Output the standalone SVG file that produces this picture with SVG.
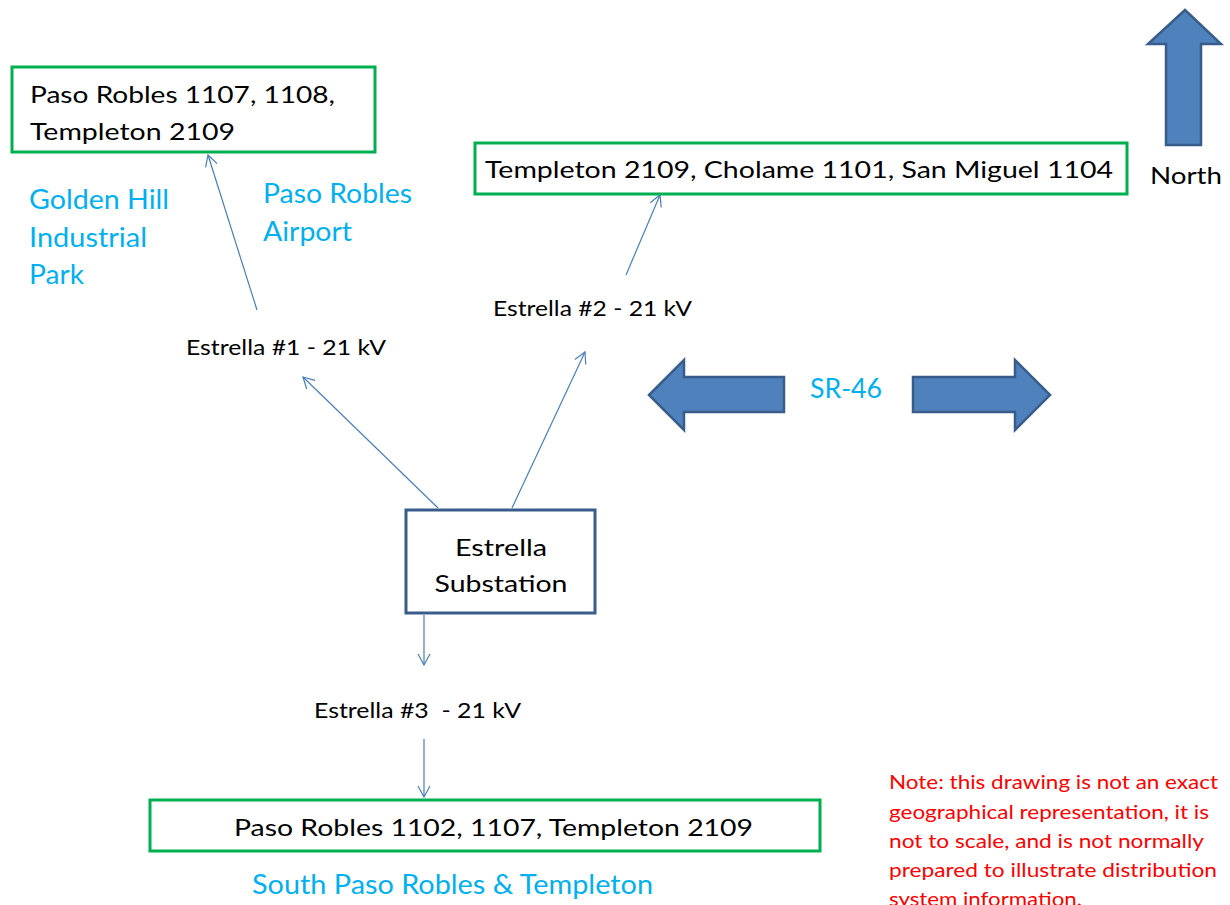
<svg xmlns="http://www.w3.org/2000/svg" width="1230" height="905" viewBox="0 0 1230 905">
<style>
text{font-family:Lato,"Open Sans","Liberation Sans",sans-serif;}
.box{fill:#fff;stroke:#00B050;stroke-width:3;}
.sub{fill:#fff;stroke:#385D8A;stroke-width:3;}
.blk{fill:#000;font-size:24px;}
.lbl{fill:#000;font-size:21px;}
.blue{fill:#00B0F0;font-size:26px;}
.note{fill:#FF0000;font-size:20px;}
.big{fill:#4F81BD;stroke:#385D8A;stroke-width:2.5;}
.con{stroke:#4A7EBB;stroke-width:1.2;fill:none;marker-end:url(#arr);}
</style>
<defs>
<marker id="arr" markerWidth="14" markerHeight="14" refX="12" refY="7" orient="auto" markerUnits="userSpaceOnUse">
<path d="M1,1 L12,7 L1,13" fill="none" stroke="#4A7EBB" stroke-width="1.2"/>
</marker>
</defs>
<rect width="1230" height="905" fill="#fff"/>
<g id="connectors">
<line class="con" x1="257" y1="310" x2="208" y2="155"/>
<line class="con" x1="626" y1="275" x2="660" y2="195"/>
<line class="con" x1="438" y1="508" x2="303" y2="377"/>
<line class="con" x1="512" y1="508" x2="585" y2="352"/>
<line class="con" x1="424" y1="615" x2="424" y2="665"/>
<line class="con" x1="424" y1="739" x2="424" y2="797"/>
</g>
<g id="box-north-west">
<rect class="box" x="12" y="67" width="363" height="85"/>
<text class="blk" x="30" y="103" textLength="305" lengthAdjust="spacingAndGlyphs">Paso Robles 1107, 1108,</text>
<text class="blk" x="30" y="140" textLength="205" lengthAdjust="spacingAndGlyphs">Templeton 2109</text>
</g>
<g id="box-north-east">
<rect class="box" x="475" y="143" width="652" height="51"/>
<text class="blk" x="485" y="178" textLength="628" lengthAdjust="spacingAndGlyphs">Templeton 2109, Cholame 1101, San Miguel 1104</text>
</g>
<g id="north">
<polygon class="big" points="1185,10 1221,44 1201,44 1201,145 1166,145 1166,44 1148,44"/>
<text class="blk" x="1150" y="184" textLength="72" lengthAdjust="spacingAndGlyphs">North</text>
</g>
<g id="sr46">
<polygon class="big" points="649,395 684,360 684,377 784,377 784,412 684,412 684,430"/>
<polygon class="big" points="1050,395 1015,360 1015,377 913,377 913,412 1015,412 1015,430"/>
<text class="blue" x="810" y="398" textLength="72" lengthAdjust="spacingAndGlyphs">SR-46</text>
</g>
<g id="golden-hill">
<text class="blue" x="29" y="209" textLength="140" lengthAdjust="spacingAndGlyphs">Golden Hill</text>
<text class="blue" x="29" y="247" textLength="118" lengthAdjust="spacingAndGlyphs">Industrial</text>
<text class="blue" x="29" y="284" textLength="55" lengthAdjust="spacingAndGlyphs">Park</text>
</g>
<g id="airport">
<text class="blue" x="263" y="203" textLength="149" lengthAdjust="spacingAndGlyphs">Paso Robles</text>
<text class="blue" x="263" y="241" textLength="89" lengthAdjust="spacingAndGlyphs">Airport</text>
</g>
<g id="estrella-1">
<text class="lbl" x="186" y="355" textLength="200" lengthAdjust="spacingAndGlyphs">Estrella #1 - 21 kV</text>
</g>
<g id="estrella-2">
<text class="lbl" x="493" y="316" textLength="199" lengthAdjust="spacingAndGlyphs">Estrella #2 - 21 kV</text>
</g>
<g id="substation">
<rect class="sub" x="406" y="510" width="189" height="103"/>
<text class="blk" x="501" y="556" text-anchor="middle" textLength="92" lengthAdjust="spacingAndGlyphs">Estrella</text>
<text class="blk" x="501" y="592" text-anchor="middle" textLength="133" lengthAdjust="spacingAndGlyphs">Substation</text>
</g>
<g id="estrella-3">
<text class="lbl" x="314" y="718" textLength="207" lengthAdjust="spacingAndGlyphs" xml:space="preserve">Estrella #3  - 21 kV</text>
</g>
<g id="box-south">
<rect class="box" x="150" y="800" width="670" height="51"/>
<text class="blk" x="234" y="836" textLength="519" lengthAdjust="spacingAndGlyphs">Paso Robles 1102, 1107, Templeton 2109</text>
<text class="blue" x="252" y="894" textLength="401" lengthAdjust="spacingAndGlyphs">South Paso Robles &amp; Templeton</text>
</g>
<g id="note">
<text class="note" x="889" y="789" textLength="329" lengthAdjust="spacingAndGlyphs">Note: this drawing is not an exact</text>
<text class="note" x="889" y="819" textLength="320" lengthAdjust="spacingAndGlyphs">geographical representation, it is</text>
<text class="note" x="889" y="848" textLength="315" lengthAdjust="spacingAndGlyphs">not to scale, and is not normally</text>
<text class="note" x="889" y="877" textLength="328" lengthAdjust="spacingAndGlyphs">prepared to illustrate distribution</text>
<text class="note" x="889" y="906" textLength="193" lengthAdjust="spacingAndGlyphs">system information.</text>
</g>
</svg>
